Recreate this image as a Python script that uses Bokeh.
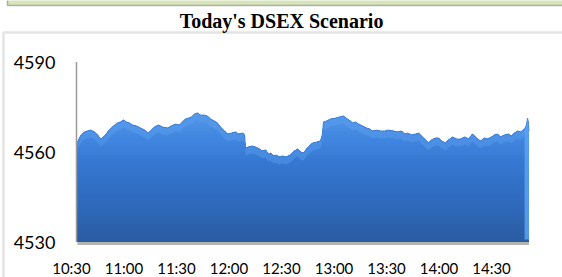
import numpy as np
from bokeh.plotting import figure
from bokeh.models import Range1d, BoxAnnotation
from bokeh.embed import file_html
from bokeh.resources import INLINE

# ---- data (minutes after 10:30, DSEX index) ----
minutes = [3.4, 5.1, 7.4, 10.9, 13.1, 14.9, 16.6, 18.9, 21.1, 24.0,
           26.3, 28.0, 29.7, 31.4, 33.1, 34.9, 37.1, 39.4, 41.7, 44.0,
           45.7, 47.4, 49.7, 52.0, 54.9, 57.1, 59.4, 61.7, 63.4, 65.1,
           66.9, 68.6, 70.3, 72.0, 73.7, 76.0, 77.7, 79.4, 81.7, 83.4,
           85.1, 87.4, 89.1, 91.4, 93.7, 95.4, 97.7, 98.9, 99.4, 101.1,
           103.4, 105.1, 107.4, 109.1, 110.9, 112.6, 113.7, 115.4, 117.1, 118.3,
           120.6, 122.3, 124.0, 125.7, 127.4, 129.1, 130.9, 132.6, 134.3, 136.0,
           137.7, 140.0, 142.3, 143.4, 144.0, 145.7, 148.0, 150.9, 153.1, 155.4,
           157.7, 159.4, 160.6, 162.3, 164.0, 166.3, 168.6, 170.3, 172.0, 174.3,
           176.6, 178.9, 181.1, 184.0, 186.3, 188.6, 190.3, 192.0, 194.3, 196.6,
           198.3, 199.4, 201.7, 204.0, 205.7, 208.0, 209.7, 211.4, 213.7, 215.4,
           217.7, 220.0, 222.3, 224.6, 226.9, 229.1, 231.4, 233.7, 236.0, 237.7,
           240.0, 241.7, 243.4, 245.1, 247.4, 249.7, 251.4, 253.1, 254.9, 256.6,
           258.9, 260.0, 260.6, 261.1, 261.4]
dsex = [4563.3, 4565.3, 4566.7, 4567.3, 4566.7, 4565.7, 4564.3, 4565.3, 4567.0, 4568.7,
        4569.7, 4570.0, 4570.7, 4570.0, 4569.7, 4569.0, 4568.7, 4568.0, 4567.3, 4566.3,
        4567.3, 4568.3, 4569.0, 4568.3, 4568.0, 4568.7, 4569.3, 4569.0, 4570.0, 4571.0,
        4571.3, 4571.7, 4572.7, 4573.0, 4572.3, 4572.3, 4572.0, 4571.0, 4570.3, 4569.7,
        4568.3, 4567.0, 4566.0, 4566.3, 4566.7, 4566.0, 4566.3, 4565.7, 4561.3, 4561.7,
        4562.0, 4561.7, 4561.0, 4560.3, 4560.7, 4559.3, 4559.7, 4558.7, 4559.0, 4558.3,
        4558.7, 4558.3, 4558.7, 4559.3, 4560.3, 4561.0, 4560.0, 4559.7, 4561.0, 4562.0,
        4563.0, 4563.3, 4563.7, 4566.0, 4570.0, 4570.3, 4571.0, 4571.3, 4571.7, 4572.0,
        4571.0, 4570.3, 4569.7, 4570.0, 4569.3, 4568.7, 4568.0, 4567.7, 4567.0, 4567.3,
        4567.0, 4567.0, 4567.3, 4567.0, 4566.7, 4567.0, 4566.0, 4566.3, 4565.7, 4566.0,
        4566.3, 4565.7, 4564.3, 4563.0, 4564.0, 4564.7, 4564.7, 4563.7, 4563.0, 4564.0,
        4565.0, 4564.3, 4564.3, 4565.0, 4564.3, 4566.0, 4564.7, 4563.7, 4564.7, 4564.3,
        4565.0, 4565.7, 4566.0, 4565.0, 4565.7, 4566.0, 4565.3, 4566.3, 4567.0, 4566.7,
        4567.7, 4569.0, 4571.3, 4569.7, 4567.0]
tick_minutes = [0, 30, 60, 90, 120, 150, 180, 210, 240]
tick_labels = ["10:30", "11:00", "11:30", "12:00", "12:30", "13:00", "13:30", "14:00", "14:30"]
y_ticks = [4530, 4560, 4590]
y_tick_labels = ["4530", "4560", "4590"]
title_text = "Today's DSEX Scenario"

assert len(minutes) == len(dsex)
x = np.array(minutes)
y = np.array(dsex)
base = y_ticks[0]
top = y_ticks[-1]

# whole canvas is the frame: 1.75 px per minute, 3 px per index point
p = figure(width=562, height=277, output_backend="svg", toolbar_location=None,
           x_axis_type=None, y_axis_type=None,
           x_range=Range1d(-40.57, 280.57), y_range=Range1d(4518.17, 4610.5),
           min_border=0)
p.outline_line_color = None
p.background_fill_color = "white"
p.border_fill_color = "white"

# greenish header box (cut at the top) and the chart's box border
p.add_layout(BoxAnnotation(left=-36.6, right=400, bottom=4608.8, top=4620,
                           fill_color="#d8e4bc", fill_alpha=1.0,
                           line_color="#1e1e1e", line_width=1.5, level="underlay"))
p.add_layout(BoxAnnotation(left=-38.86, right=400, bottom=4500, top=4599.83,
                           fill_alpha=0.0,
                           line_color="#a6a6a6", line_width=2.5, level="underlay"))

# floor shadow
p.varea(x=x, y1=base - 1.0, y2=base, fill_color="#b4b4b4")

# gradient-like area: layered bands, darker toward the floor
anchor_v = [4530, 4540, 4550, 4558, 4565, 4575]
anchor_c = [(0x2a, 0x5b, 0xa0), (0x2d, 0x66, 0xb5), (0x31, 0x70, 0xc7),
            (0x36, 0x79, 0xd3), (0x40, 0x86, 0xe0), (0x58, 0x99, 0xea)]
levels = np.arange(4575, base, -1.0)
for lv in levels:
    rgb = [int(round(np.interp(lv, anchor_v, [c[i] for c in anchor_c]))) for i in range(3)]
    col = "#%02x%02x%02x" % tuple(rgb)
    p.varea(x=x, y1=base, y2=np.minimum(y, lv), fill_color=col)

# top highlight edge
p.varea(x=x, y1=y - 2.5, y2=y, fill_color="#5c9fee", fill_alpha=0.45)
p.line(x=x, y=y, line_color="#3f7fd6", line_width=1)

# lighter right side face of the 3-D area
side = x >= x[-1] - 2.6
p.varea(x=x[side], y1=base + 0.8, y2=y[side], fill_color="#5da2f0", fill_alpha=0.85)

# y axis line at the start of the data
p.segment(x0=[minutes[0] - 0.55], y0=[base], x1=[minutes[0] - 0.55], y1=[top],
          line_color="#9a9a9a", line_width=1.5)

# tick labels
p.text(x=[-9.2] * len(y_ticks), y=y_ticks, text=y_tick_labels,
       text_align="right", text_baseline="middle", text_font={"value": "Lato"},
       text_font_size="18px", text_color="#000000")
p.text(x=tick_minutes, y=[base - 8.6] * len(tick_minutes), text=tick_labels,
       text_align="center", text_baseline="middle", text_font={"value": "Lato"},
       text_font_size="15px", text_color="#000000")

# title
p.text(x=[120], y=[4603.6], text=[title_text], text_align="center",
       text_baseline="middle", text_font={"value": "Liberation Serif"},
       text_font_style="bold", text_font_size="20px", text_color="#000000")

open("out.html", "w").write(file_html(p, INLINE))
